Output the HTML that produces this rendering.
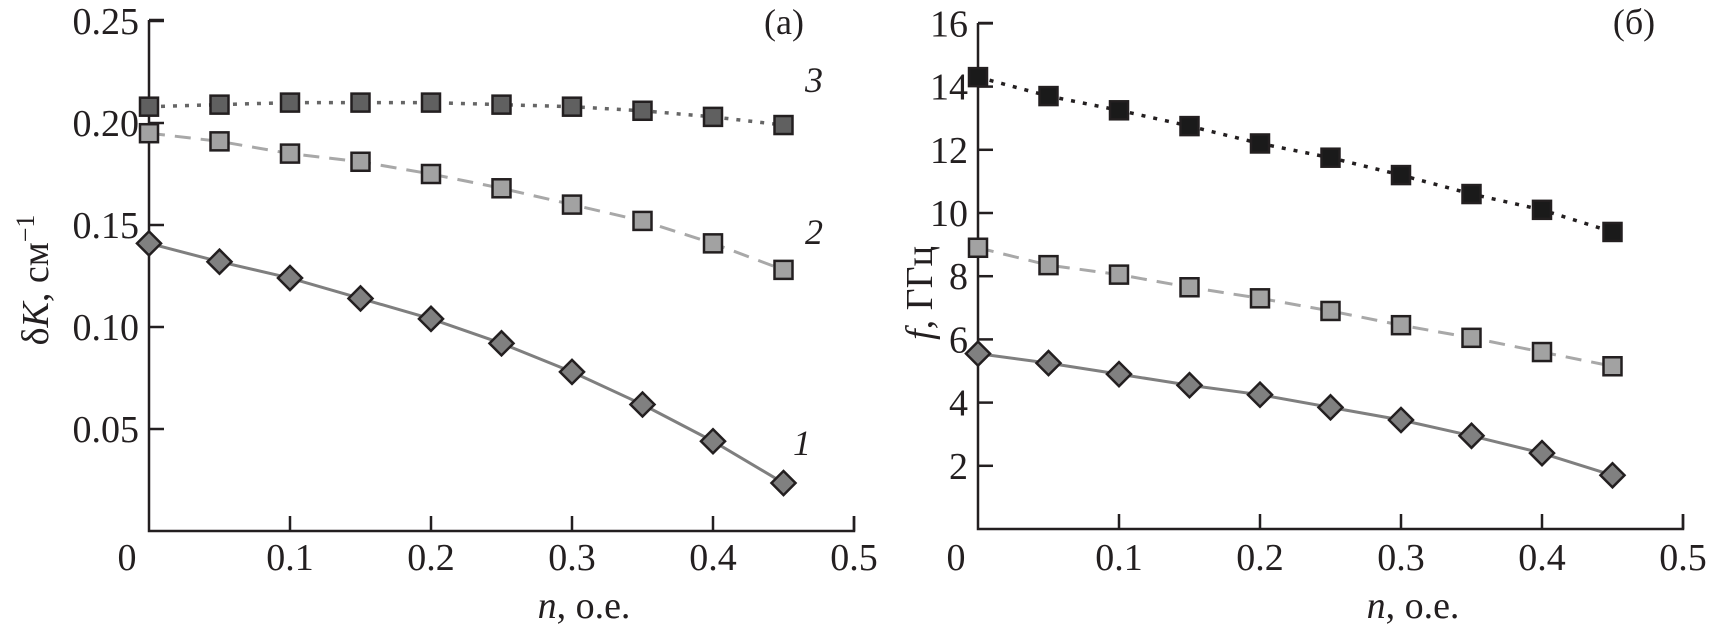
<!DOCTYPE html>
<html><head><meta charset="utf-8"><style>
html,body{margin:0;padding:0;background:#fff;}
svg text{font-family:"Liberation Serif","DejaVu Serif",serif;fill:#231f20;}
</style></head><body>
<svg id="chart" width="1710" height="632" viewBox="0 0 1710 632" xmlns="http://www.w3.org/2000/svg" font-family="Liberation Serif, DejaVu Serif, serif"></svg>
<script>
const nVals=[0,0.05,0.1,0.15,0.2,0.25,0.3,0.35,0.4,0.45];
const dK1=[0.141,0.132,0.124,0.114,0.104,0.092,0.078,0.062,0.044,0.0235];
const dK2=[0.195,0.191,0.185,0.181,0.175,0.168,0.160,0.152,0.141,0.128];
const dK3=[0.208,0.209,0.210,0.210,0.210,0.209,0.208,0.206,0.203,0.199];
const f1=[5.55,5.25,4.9,4.55,4.25,3.85,3.45,2.95,2.4,1.7];
const f2=[8.9,8.35,8.05,7.65,7.3,6.9,6.45,6.05,5.6,5.15];
const f3=[14.3,13.7,13.25,12.75,12.2,11.75,11.2,10.6,10.1,9.4];
const xTicks=[0.1,0.2,0.3,0.4,0.5];
const xTickLabels=["0","0.1","0.2","0.3","0.4","0.5"];
const yTicksA=[0.05,0.10,0.15,0.20,0.25];
const yTickLabelsA=["0.05","0.10","0.15","0.20","0.25"];
const yTicksB=[2,4,6,8,10,12,14,16];

const svg=document.getElementById('chart');
const NS='http://www.w3.org/2000/svg';
function mk(tag,attrs,parent){const e=document.createElementNS(NS,tag);for(const k in attrs)e.setAttribute(k,attrs[k]);(parent||svg).appendChild(e);return e;}

function panel(cfg){
  const g=mk('g',{});
  
  
  const sx=v=>cfg.x0+v*1410;
  const sy=v=>cfg.y0-v*cfg.ky;
  const ax=mk('path',{d:`M${cfg.x0} ${cfg.top} H${cfg.x0+15} M${cfg.x0} ${cfg.top} V${cfg.y0} H${sx(0.5)} V${cfg.y0-15}`,fill:'none',stroke:'#231f20','stroke-width':2.5},g);
  
  
  xTicks.forEach(t=>{const l=mk('line',{x1:sx(t),x2:sx(t),y1:cfg.y0,y2:cfg.y0-15,stroke:'#231f20','stroke-width':2.5},g);
    
    });
  xTickLabels.forEach((s,i)=>{const t=mk('text',{x:i===0?cfg.x0-22:sx(i*0.1),y:570,'font-size':38,'text-anchor':'middle'},g);t.textContent=s;
    
    });
  cfg.yt.forEach((v,i)=>{const l=mk('line',{x1:cfg.x0,x2:cfg.x0+15,y1:sy(v),y2:sy(v),stroke:'#231f20','stroke-width':2.5},g);
    
    
    const t=mk('text',{x:cfg.x0-10,y:sy(v)+13,'font-size':38,'text-anchor':'end'},g);t.textContent=cfg.ytl[i];
    
    });
  const xt=mk('text',{x:cfg.x0+435,y:618,'font-size':38,'text-anchor':'middle'},g);
  xt.innerHTML='<tspan font-style="italic">n</tspan>, o.e.';
  
  
  const yt=mk('text',{x:0,y:0,'font-size':38,'text-anchor':'middle',transform:`translate(${cfg.ytx},${cfg.yty}) rotate(-90)`},g);
  yt.innerHTML=cfg.ytitle;
  
  
  const pl=mk('text',{x:cfg.plx,y:34,'font-size':36,'text-anchor':'middle'},g);pl.textContent=cfg.plabel;
  
  
  cfg.series.forEach(s=>{
    const pts=nVals.map((n,i)=>[sx(n),sy(s.data[i])]);
    const ln=mk('polyline',{points:pts.map(p=>p.join(',')).join(' '),fill:'none',stroke:s.stroke,'stroke-width':s.w,'stroke-dasharray':s.dash||'none'},g);
    
    
    pts.forEach(p=>{let m;
      if(s.marker==='d'){m=mk('rect',{x:p[0]-8.5,y:p[1]-8.5,width:17,height:17,fill:s.fill,stroke:'#231f20','stroke-width':2.5,transform:`rotate(45 ${p[0]} ${p[1]})`},g);}
      else{m=mk('rect',{x:p[0]-9,y:p[1]-9,width:18,height:18,fill:s.fill,stroke:'#231f20','stroke-width':2.5},g);}
      
      });
    if(s.label){const t=mk('text',{x:s.lx,y:s.ly,'font-size':36,'font-style':'italic','text-anchor':'middle'},g);t.textContent=s.label;
      
      }
  });
}
panel({name:'panel-a',x0:149,y0:531,ky:2040,top:20,yt:yTicksA,ytl:yTickLabelsA,ytx:48,yty:280,
  ytitle:'δ<tspan font-style="italic">K</tspan>, см<tspan baseline-shift="super" font-size="26">−1</tspan>',plx:784,plabel:'(a)',
  series:[
    {name:'curve-1',data:dK1,stroke:'#7f7f7f',w:3,marker:'d',fill:'#808080',label:'1',lx:802,ly:455},
    {name:'curve-2',data:dK2,stroke:'#a8a8a8',w:3,dash:'16 10',marker:'s',fill:'#a2a2a2',label:'2',lx:814,ly:244},
    {name:'curve-3',data:dK3,stroke:'#666',w:3.5,dash:'4 8',marker:'s',fill:'#606060',label:'3',lx:814,ly:92}]});
panel({name:'panel-b',x0:978,y0:529,ky:31.6,top:23,yt:yTicksB,ytl:yTicksB.map(String),ytx:932,yty:293,
  ytitle:'<tspan font-style="italic">f</tspan>, ГГц',plx:1634,plabel:'(б)',
  series:[
    {name:'curve-1',data:f1,stroke:'#7f7f7f',w:3,marker:'d',fill:'#808080'},
    {name:'curve-2',data:f2,stroke:'#a8a8a8',w:3,dash:'16 10',marker:'s',fill:'#a2a2a2'},
    {name:'curve-3',data:f3,stroke:'#231f20',w:3.5,dash:'4 8',marker:'s',fill:'#1a1a1a'}]});
</script>
</body></html>
